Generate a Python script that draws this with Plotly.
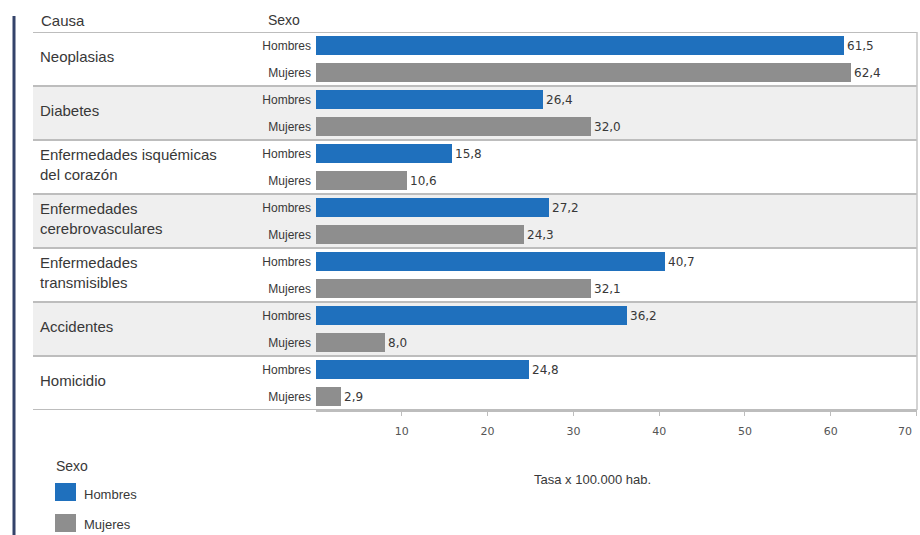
import plotly.graph_objects as go

# Tasa de mortalidad por causa y sexo (por 100.000 habitantes)
causas = [
    "Neoplasias",
    "Diabetes",
    "Enfermedades isquémicas<br>del corazón",
    "Enfermedades<br>cerebrovasculares",
    "Enfermedades<br>transmisibles",
    "Accidentes",
    "Homicidio",
]
sexos = ["Hombres", "Mujeres"]
hombres = [61.5, 26.4, 15.8, 27.2, 40.7, 36.2, 24.8]
mujeres = [62.4, 32.0, 10.6, 24.3, 32.1, 8.0, 2.9]
x_ticks = [10, 20, 30, 40, 50, 60, 70]

W, H = 920, 535
BLUE = "#1f70bd"
GRAY = "#8e8e8e"
TXT = "#383838"
TICK_TXT = "#555555"
FONT = "Liberation Sans, Arial, sans-serif"
NUMFONT = "DejaVu Sans, Verdana, sans-serif"


def px(x):
    return x / W


def py(y):
    return 1 - y / H


n = len(causas)
slots = len(sexos)
y_h = [g * slots + 0.5 for g in range(n)]
y_m = [g * slots + 1.5 for g in range(n)]

# the last tick label sits on the page edge, so it is drawn right-aligned below
x_ticktext = [str(t) for t in x_ticks[:-1]] + [""]

fig = go.Figure()
for name, vals, ys, col in [("Hombres", hombres, y_h, BLUE), ("Mujeres", mujeres, y_m, GRAY)]:
    fig.add_trace(go.Bar(
        name=name, x=vals, y=ys, orientation="h", width=0.74,
        marker=dict(color=col, line=dict(width=0)),
        texttemplate="%{x:.1f}", textposition="outside",
        textfont=dict(family=NUMFONT, size=12, color=TXT),
        constraintext="none", cliponaxis=False, showlegend=False,
    ))

shapes = []
left, right = px(33), px(917)
# alternate row shading
for g in range(n):
    if g % 2 == 1:
        shapes.append(dict(type="rect", xref="paper", yref="y", x0=left, x1=right,
                           y0=g * slots, y1=(g + 1) * slots, fillcolor="#efefef",
                           line=dict(width=0), layer="below"))
# row separators
for g in range(n + 1):
    shapes.append(dict(type="line", xref="paper", yref="y", x0=left, x1=right,
                       y0=g * slots, y1=g * slots, line=dict(color="#bdbdbd", width=2),
                       layer="below"))
# right frame of the bar area
shapes.append(dict(type="line", xref="paper", yref="y", x0=right, x1=right,
                   y0=0, y1=n * slots, line=dict(color="#c4c4c4", width=1.5)))
# vertical rule on the left
shapes.append(dict(type="line", xref="paper", yref="paper", x0=px(14), x1=px(14),
                   y0=py(16), y1=py(535), line=dict(color="#34436a", width=3)))
# legend swatches
shapes.append(dict(type="rect", xref="paper", yref="paper", x0=px(55), x1=px(76),
                   y0=py(501), y1=py(483), fillcolor=BLUE, line=dict(width=0)))
shapes.append(dict(type="rect", xref="paper", yref="paper", x0=px(55), x1=px(76),
                   y0=py(532), y1=py(514), fillcolor=GRAY, line=dict(width=0)))

ann = []
ann.append(dict(text="Causa", xref="paper", yref="paper", x=px(39), y=py(20),
                xanchor="left", yanchor="middle", showarrow=False,
                font=dict(family=FONT, size=15, color=TXT)))
ann.append(dict(text="Sexo", xref="paper", yref="paper", x=px(266), y=py(20),
                xanchor="left", yanchor="middle", showarrow=False,
                font=dict(family=FONT, size=14, color=TXT)))
for g, c in enumerate(causas):
    ann.append(dict(text=c, xref="paper", yref="y", x=px(38), y=g * slots + 0.9,
                    xanchor="left", yanchor="middle", align="left", showarrow=False,
                    font=dict(family=FONT, size=15, color=TXT)))
# last x tick label, kept inside the page
ann.append(dict(text=str(x_ticks[-1]), xref="x", yref="paper", x=x_ticks[-1], y=py(431),
                xanchor="right", yanchor="middle", xshift=-3, showarrow=False,
                font=dict(family=NUMFONT, size=11, color=TICK_TXT)))
ann.append(dict(text="Tasa x 100.000 hab.", xref="paper", yref="paper", x=px(592), y=py(479),
                xanchor="center", yanchor="middle", showarrow=False,
                font=dict(family=FONT, size=13, color=TXT)))
ann.append(dict(text="Sexo", xref="paper", yref="paper", x=px(54), y=py(466),
                xanchor="left", yanchor="middle", showarrow=False,
                font=dict(family=FONT, size=14, color=TXT)))
ann.append(dict(text=sexos[0], xref="paper", yref="paper", x=px(82), y=py(494),
                xanchor="left", yanchor="middle", showarrow=False,
                font=dict(family=FONT, size=13, color=TXT)))
ann.append(dict(text=sexos[1], xref="paper", yref="paper", x=px(82), y=py(524),
                xanchor="left", yanchor="middle", showarrow=False,
                font=dict(family=FONT, size=13, color=TXT)))

fig.update_layout(
    width=W, height=H, margin=dict(l=0, r=0, t=0, b=0),
    paper_bgcolor="white", plot_bgcolor="rgba(0,0,0,0)",
    separators=",.", barmode="overlay", bargap=0,
    shapes=shapes, annotations=ann,
    xaxis=dict(domain=[px(316), px(917)], range=[0, 70.05], tickvals=x_ticks,
               ticktext=x_ticktext,
               showgrid=False, zeroline=False, showline=True, linecolor="#bdbdbd",
               linewidth=2, ticks="outside", ticklen=4, tickcolor="#bdbdbd",
               ticklabelstandoff=6,
               tickfont=dict(family=NUMFONT, size=11, color=TICK_TXT)),
    yaxis=dict(domain=[py(410), py(32)], range=[n * slots, 0],
               tickvals=[v for pair in zip(y_h, y_m) for v in pair],
               ticktext=sexos * n, showgrid=False, zeroline=False, ticks="",
               ticklabelstandoff=4,
               tickfont=dict(family=FONT, size=12, color=TXT)),
)

fig.write_html("out.html")
